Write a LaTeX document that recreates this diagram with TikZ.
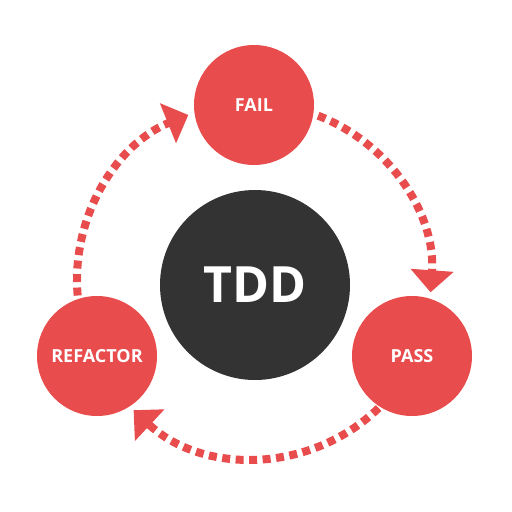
\documentclass[tikz,border=0pt]{standalone}
\usepackage{fontspec}
\setmainfont{Open Sans}
\usetikzlibrary{arrows.meta}
\definecolor{tddred}{RGB}{232,76,76}
\definecolor{tdddark}{RGB}{51,51,51}
\begin{document}
\begin{tikzpicture}[x=1pt,y=-1pt,
  phase/.style={circle,fill=tddred,minimum size=120pt,inner sep=0pt,
    text=white,font=\bfseries\fontsize{18}{20}\selectfont},
  core/.style={circle,fill=tdddark,minimum size=190pt,inner sep=0pt,
    text=white,font=\bfseries\fontsize{50}{56}\selectfont},
  cycle/.style={draw=tddred,line width=8pt,dash pattern=on 8pt off 5.5pt,
    -{Triangle[width=42pt,length=22pt]},fill=none}]
\useasboundingbox (0,0) rectangle (512,512);
\coordinate (hub) at (255,280);
% dotted cycle arrows (y axis points down, so angles run clockwise)
\draw[cycle] (hub) ++(-69:176) arc[start angle=-69,end angle=4,radius=176];
\draw[cycle] (hub) ++(46:178) arc[start angle=46,end angle=133,radius=178];
\draw[cycle] (hub) ++(-185:178) arc[start angle=-185,end angle=-112,radius=178];
% nodes
\node[core] (tdd) at (255,285) {TDD};
\node[phase] (fail) at (254,105) {FAIL};
\node[phase] (pass) at (412,356) {PASS};
\node[phase] (refactor) at (97,356) {REFACTOR};
\end{tikzpicture}
\end{document}
